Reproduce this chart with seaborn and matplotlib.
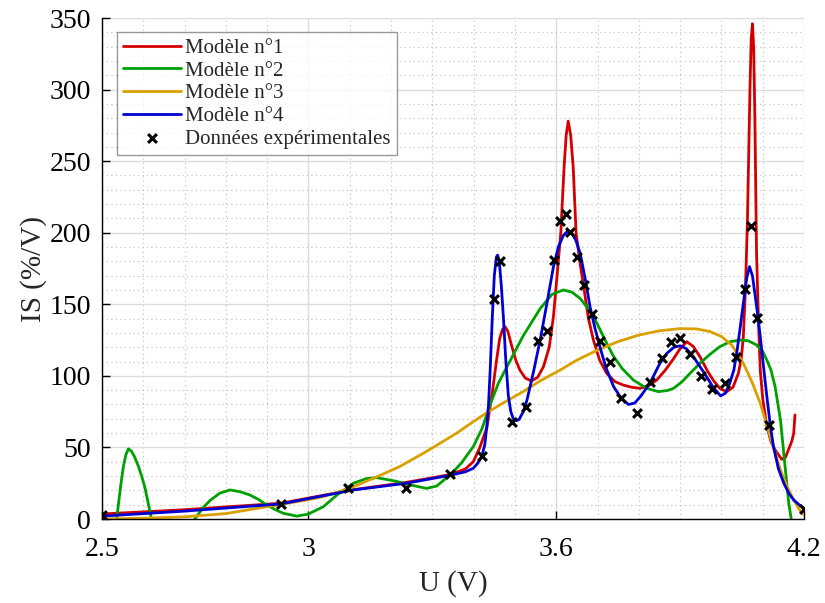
import numpy as np
import pandas as pd
import matplotlib
matplotlib.use("Agg")
import matplotlib.pyplot as plt
from matplotlib.ticker import MultipleLocator, FixedLocator
import seaborn as sns

u_exp = [2.500, 2.933, 3.096, 3.236, 3.343, 3.420, 3.449, 3.464, 3.493, 3.527,
         3.556, 3.578, 3.595, 3.609, 3.624, 3.633, 3.650, 3.667, 3.686, 3.706,
         3.730, 3.757, 3.795, 3.827, 3.856, 3.878, 3.900, 3.924, 3.950, 3.977,
         4.008, 4.035, 4.057, 4.071, 4.086, 4.115, 4.200]
is_exp = [3, 10.5, 21.7, 21.7, 31.4, 44, 153.7, 180.3, 67.8, 78.3,
          124.4, 131.4, 181, 208, 213, 200.6, 183, 163.5, 143, 124.4,
          110, 84.6, 74, 95.7, 112.5, 123.7, 126.5, 115.3, 100, 91,
          95, 113, 161, 204.7, 140.5, 65.7, 7]

# Modèle n°1
u_m1 = [2.5, 2.7, 2.933, 3.109, 3.235, 3.343, 3.38, 3.399, 3.415, 3.432,
        3.445, 3.455, 3.463, 3.47, 3.476, 3.483, 3.492, 3.502, 3.512, 3.525,
        3.54, 3.555, 3.569, 3.583, 3.593, 3.602, 3.611, 3.619, 3.624, 3.629,
        3.635, 3.641, 3.648, 3.657, 3.666, 3.678, 3.69, 3.705, 3.722, 3.742,
        3.762, 3.783, 3.803, 3.823, 3.843, 3.864, 3.884, 3.9, 3.916, 3.932,
        3.948, 3.965, 3.98, 3.997, 4.013, 4.028, 4.041, 4.048, 4.053, 4.058,
        4.063, 4.066, 4.069, 4.072, 4.075, 4.078, 4.081, 4.083, 4.085, 4.09,
        4.094, 4.1, 4.11, 4.12, 4.13, 4.146, 4.155, 4.162, 4.17, 4.175, 4.178]
is_m1 = [3.5, 6.5, 11, 20.5, 25.5, 31, 35, 40, 50, 64,
         88, 110, 126, 132.5, 134.3, 131, 121, 111, 104, 98.5,
         96.4, 99, 106.4, 120, 141, 170, 200, 246, 268, 278,
         268, 246, 200, 180, 163, 140, 125, 111, 101.8, 96,
         93.6, 92, 91.3, 93, 97, 104, 112, 119, 123.9, 120.5,
         113.4, 104, 97, 91, 89, 92, 101.8, 112, 127.4, 160,
         209, 255, 300, 335, 346, 330, 279, 232, 185.6, 135,
         104, 84, 64.5, 54, 48.2, 41.7, 43, 48.2, 54, 59.9, 72.7]

# Modèle n°2
u_m2 = [2.5, 2.5356, 2.545, 2.552, 2.558, 2.564, 2.571, 2.578, 2.588, 2.596,
        2.604, 2.612, 2.62, 2.64, 2.67, 2.7, 2.725, 2.745, 2.762, 2.785,
        2.81, 2.835, 2.858, 2.88, 2.899, 2.92, 2.939, 2.972, 3.0, 3.036,
        3.07, 3.109, 3.14, 3.165, 3.21, 3.246, 3.286, 3.31, 3.343, 3.37,
        3.399, 3.42, 3.44, 3.46, 3.48, 3.52, 3.561, 3.59, 3.617, 3.638,
        3.658, 3.68, 3.698, 3.72, 3.738, 3.76, 3.787, 3.819, 3.847, 3.87,
        3.884, 3.905, 3.924, 3.948, 3.97, 3.996, 4.02, 4.045, 4.065, 4.085,
        4.1, 4.11, 4.12, 4.13, 4.143, 4.155, 4.163, 4.169, 4.18]
is_m2 = [-30, 0, 22.6, 37, 45, 49, 47.5, 44, 37, 30,
         22, 11, 0, -8, -12, -8, 0, 8, 13, 18,
         20.3, 19, 16.8, 13.5, 9.8, 6.5, 4, 2, 3.5, 8.6,
         17, 25, 28.2, 28.9, 26.5, 23.8, 21.4, 23, 30.7, 39,
         50.5, 63, 80, 95, 106, 128, 147, 157, 160, 158.5,
         154, 146, 137, 124, 114, 105, 97, 91.3, 89, 89.8,
         91.3, 96, 101.8, 108.8, 114.5, 120.4, 123.8, 125, 124.5, 121.6,
         117, 111, 104, 92.4, 69, 34, 11, 0, -20]

# Modèle n°3
u_m3 = [2.5, 2.6, 2.7, 2.8, 2.875, 2.95, 3.0, 3.036, 3.1, 3.157,
        3.22, 3.278, 3.319, 3.359, 3.399, 3.436, 3.48, 3.52, 3.561, 3.609,
        3.65, 3.7, 3.75, 3.8, 3.85, 3.9, 3.94, 3.972, 4.0, 4.025,
        4.053, 4.075, 4.094, 4.118, 4.143, 4.16, 4.175, 4.19, 4.2]
is_m3 = [0, 0.6, 1.5, 3.8, 7.4, 11, 13.5, 15.6, 21.5, 28.4,
         36.5, 45.9, 53, 60, 68, 75, 82.5, 89, 96.5, 104,
         111, 118, 124, 128.5, 131.5, 133, 132.8, 131, 127.5, 121.5,
         108.8, 95, 80.8, 57.5, 34.2, 22, 13.3, 6, 2.8]

# Modèle n°4
u_m4 = [2.5, 2.7, 2.933, 3.109, 3.235, 3.343, 3.38, 3.399, 3.41, 3.42,
        3.427, 3.432, 3.436, 3.44, 3.445, 3.45, 3.455, 3.458, 3.462, 3.467,
        3.472, 3.478, 3.484, 3.49, 3.496, 3.503, 3.51, 3.52, 3.529, 3.545,
        3.561, 3.577, 3.593, 3.605, 3.617, 3.627, 3.636, 3.647, 3.658, 3.67,
        3.682, 3.694, 3.706, 3.72, 3.739, 3.757, 3.775, 3.79, 3.805, 3.827,
        3.851, 3.868, 3.885, 3.9, 3.915, 3.932, 3.948, 3.964, 3.98, 3.998,
        4.01, 4.02, 4.03, 4.037, 4.045, 4.053, 4.061, 4.068, 4.075, 4.082,
        4.088, 4.094, 4.102, 4.11, 4.118, 4.126, 4.138, 4.151, 4.163, 4.175,
        4.188, 4.2]
is_m4 = [2, 5.5, 10.5, 20.3, 24.9, 30.5, 33, 35.4, 39, 44,
         52, 65, 80, 104, 140, 170, 183, 184.4, 180, 163,
         141, 110, 86, 75, 70, 68.7, 69.5, 75, 83, 103,
         125, 150, 176, 190, 198, 201, 200.5, 195, 185.6, 168,
         148, 133, 120, 106, 92.4, 84.5, 80, 81, 86, 95,
         108.8, 115.8, 120, 121, 119, 113.4, 106.5, 99.4, 92, 86,
         88, 94.8, 104, 115.8, 133, 150.7, 168, 176.3, 170, 155.3,
         142, 127.4, 106, 85.5, 66, 50.5, 35, 25, 18, 13.3,
         10, 7.5]

noms = ["Modèle n°1", "Modèle n°2", "Modèle n°3", "Modèle n°4"]
couleurs = ["#D40000", "#00A000", "#D9A000", "#0000D4"]
modeles = [(u_m1, is_m1), (u_m2, is_m2), (u_m3, is_m3), (u_m4, is_m4)]

sns.set_style("white")
plt.rcParams['font.family'] = ['Liberation Serif', 'DejaVu Serif']

fig = plt.figure(figsize=(8.25, 6.03), dpi=100)
ax = fig.add_axes([0.1236, 0.1393, 0.851, 0.8308])

for (u, v), nom, c in zip(modeles, noms, couleurs):
    df = pd.DataFrame({"U": u, "IS": v})
    sns.lineplot(data=df, x="U", y="IS", color=c, linewidth=2.0,
                 label=nom, ax=ax, sort=False, estimator=None)

df_exp = pd.DataFrame({"U": u_exp, "IS": is_exp})
sns.scatterplot(data=df_exp, x="U", y="IS", marker="x", color="black",
                s=40, linewidth=2.2, label="Données expérimentales",
                ax=ax, zorder=5)

ax.set_xlim(2.5, 4.2)
ax.set_ylim(0, 350)
ax.xaxis.set_major_locator(FixedLocator([2.5, 3, 3.6, 4.2]))
ax.set_xticklabels(["2.5", "3", "3.6", "4.2"])
ax.yaxis.set_major_locator(MultipleLocator(50))
ax.xaxis.set_minor_locator(MultipleLocator(0.1))
ax.yaxis.set_minor_locator(MultipleLocator(10))

ax.grid(which="major", color="#DCDCDC", linewidth=1.0, linestyle="-")
ax.grid(which="minor", color="#BDBDBD", linewidth=0.8, linestyle=(0, (1, 3)))
ax.set_axisbelow(True)

for s in ["top", "right"]:
    ax.spines[s].set_visible(False)
for s in ["left", "bottom"]:
    ax.spines[s].set_color("black")
    ax.spines[s].set_linewidth(1.0)

ax.tick_params(which="major", direction="in", length=6, width=1,
               labelsize=20, colors="black", left=True, bottom=True)
ax.tick_params(axis="y", which="major", pad=8)
ax.tick_params(axis="x", which="major", pad=13)
ax.tick_params(which="minor", length=0)

ax.set_xlabel("U (V)", fontsize=21, labelpad=6)
ax.set_ylabel("IS (%/V)", fontsize=21, labelpad=2)

leg = ax.legend(loc="upper left", bbox_to_anchor=(0.021, 0.972), fontsize=15,
                frameon=True, fancybox=False, edgecolor="#808080",
                handlelength=2.8, handletextpad=0.2, borderpad=0.3,
                labelspacing=0.15, borderaxespad=0)
leg.get_frame().set_linewidth(1.0)

fig.savefig("out.png", dpi=100)
